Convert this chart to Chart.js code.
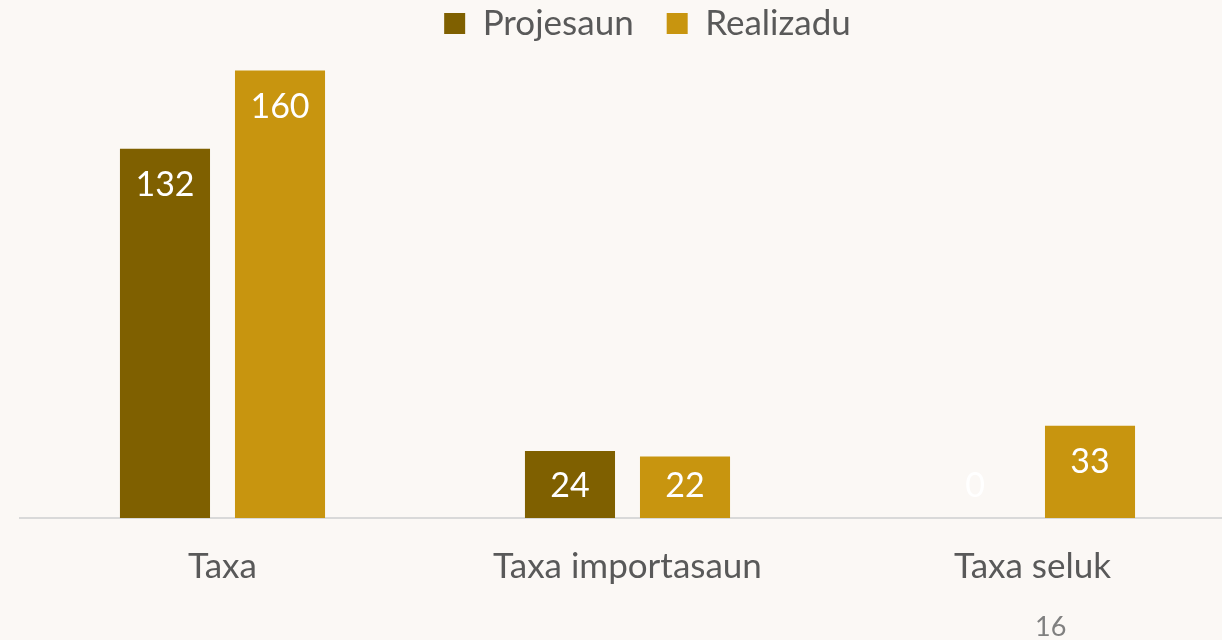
<!DOCTYPE html>
<html>
<head>
<meta charset="utf-8">
<script src="https://cdn.jsdelivr.net/npm/chart.js@4"></script>
<style>
  html, body { margin: 0; padding: 0; overflow: hidden; background: #fbf8f5; }
  #wrap { position: absolute; left: 0; top: 0; width: 1240px; height: 640px; }
  #pageNo { position: absolute; left: 1035px; top: 609px; font: 27px Lato, sans-serif; color: #808080; }
</style>
</head>
<body>
<div id="wrap"><canvas id="taxaChart" width="1240" height="640"></canvas></div>
<div id="pageNo">16</div>
<script>
// categories and series
const categories = ['Taxa', 'Taxa importasaun', 'Taxa seluk'];
const projesaun = [132, 24, 0];
const realizadu = [160, 22, 33];

// white value labels near the top of each bar
const barLabels = {
    id: 'barLabels',
    afterLayout(chart) {
        // nudge the legend a bit right, like the original slide
        chart.legend.left += 20;
        chart.legend.right += 20;
    },
    afterDatasetsDraw(chart) {
        const ctx = chart.ctx;
        ctx.save();
        ctx.font = '34px Lato, sans-serif';
        ctx.fillStyle = '#ffffff';
        ctx.textAlign = 'center';
        ctx.textBaseline = 'middle';
        chart.data.datasets.forEach((ds, i) => {
            chart.getDatasetMeta(i).data.forEach((bar, j) => {
                const y = Math.min(bar.y + 36, bar.base - 32);
                ctx.fillText(String(ds.data[j]), bar.x, y);
            });
        });
        ctx.restore();
    }
};

const taxaCtx = document.getElementById('taxaChart').getContext('2d');
const taxaChart = new Chart(taxaCtx, {
    type: 'bar',
    data: {
        labels: categories,
        datasets: [{
            label: 'Projesaun',
            data: projesaun,
            backgroundColor: '#7f6000',
            categoryPercentage: 0.568,
            barPercentage: 0.783
        }, {
            label: 'Realizadu',
            data: realizadu,
            backgroundColor: '#c8950f',
            categoryPercentage: 0.568,
            barPercentage: 0.783
        }]
    },
    options: {
        responsive: false,
        animation: false,
        devicePixelRatio: 1,
        layout: {
            padding: { left: 20, right: 5, top: -27, bottom: 32 }
        },
        scales: {
            x: {
                grid: { display: false },
                border: { display: true, color: '#d9d9d9', width: 2 },
                ticks: {
                    color: '#595959',
                    padding: 20,
                    font: { family: 'Lato, sans-serif', size: 35 }
                }
            },
            y: {
                display: false,
                min: 0,
                max: 167
            }
        },
        plugins: {
            legend: {
                display: true,
                position: 'top',
                labels: {
                    color: '#595959',
                    boxWidth: 21,
                    boxHeight: 21,
                    padding: 33,
                    font: { family: 'Lato, sans-serif', size: 35 }
                }
            },
            tooltip: { enabled: false }
        }
    },
    plugins: [barLabels]
});
</script>
</body>
</html>
